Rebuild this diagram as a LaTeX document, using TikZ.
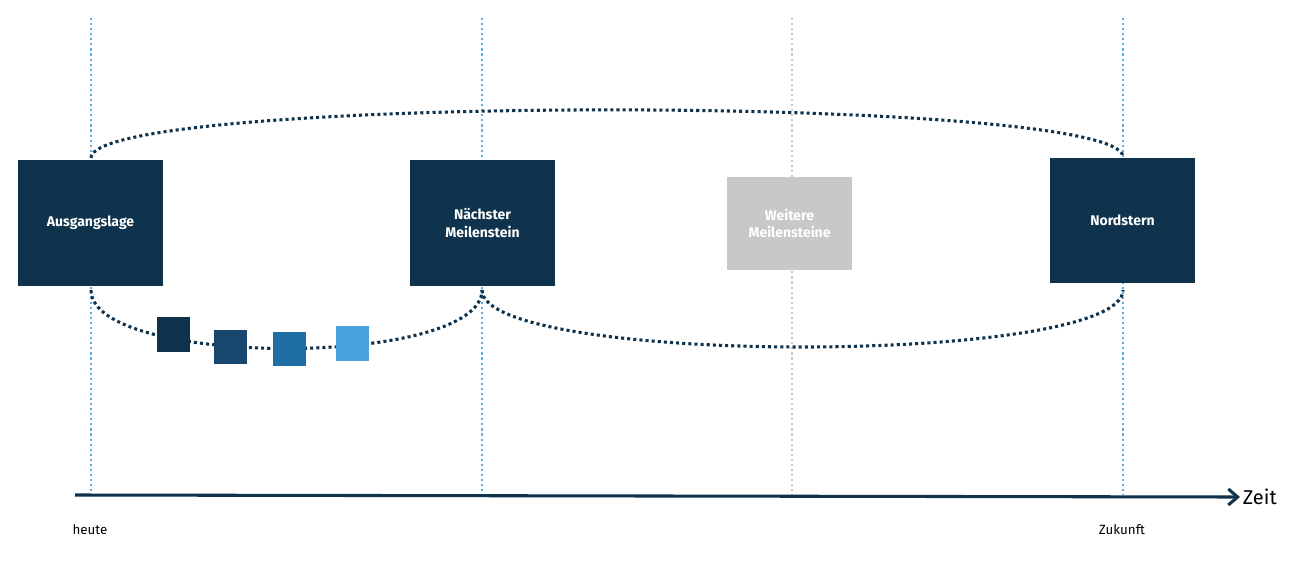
\documentclass[tikz,border=0pt]{standalone}
\usepackage{fontspec}
\setmainfont{Fira Sans}
\usetikzlibrary{arrows.meta}
\definecolor{navy}{HTML}{0F334D}
\definecolor{lblue}{HTML}{5DADE2}
\definecolor{lgray}{HTML}{C8C8C8}
\tikzset{
 vline/.style={lblue,line width=1.6pt,dash pattern=on 1.6pt off 2.2pt},
 loop/.style={navy,line width=2.3pt,dash pattern=on 2.3pt off 2.3pt},
 box/.style={fill=navy,text=white,font=\bfseries\fontsize{10.5}{13}\selectfont,align=center,inner sep=0pt},
 sq/.style={inner sep=0pt}
}
\begin{document}
\begin{tikzpicture}[x=0.75pt,y=-0.75pt]
\useasboundingbox (0,0) rectangle (1301,574);
\coordinate (t1) at (91,18); \coordinate (b1) at (91,495);
\coordinate (t2) at (482,18); \coordinate (b2) at (482,495);
\coordinate (t3) at (792,18); \coordinate (b3) at (792,495);
\coordinate (t4) at (1123,18); \coordinate (b4) at (1123,495);
\draw[vline] (t1)--(b1);
\draw[vline] (t2)--(b2);
\draw[vline,lgray] (t3)--(b3);
\draw[vline] (t4)--(b4);
\draw[loop] (91,158) .. controls (91,94) and (1123,94) .. (1123,157);
\draw[loop] (482,290) .. controls (482,366) and (1123,366) .. (1123,290);
\draw[loop] (91,290) .. controls (91,368) and (482,368) .. (482,290);
\node[box,minimum width=109pt,minimum height=95pt] (a) at (90.5,223) {Ausgangslage};
\node[box,minimum width=109pt,minimum height=95pt] (n) at (482.5,223) {Nächster\\Meilenstein};
\node[box,fill=lgray,minimum width=94pt,minimum height=70pt] (w) at (789.5,223.5) {Weitere\\Meilensteine};
\node[box,minimum width=109pt,minimum height=94pt] (s) at (1122.5,220.5) {Nordstern};
\node[sq,fill=navy,minimum width=25pt,minimum height=26pt] (q1) at (173.5,334.5) {};
\node[sq,fill={rgb,255:red,23;green,71;blue,110},minimum width=25pt,minimum height=26pt] (q2) at (230.5,347) {};
\node[sq,fill={rgb,255:red,31;green,111;blue,166},minimum width=25pt,minimum height=26pt] (q3) at (289.5,349) {};
\node[sq,fill={rgb,255:red,74;green,163;blue,223},minimum width=25pt,minimum height=26pt] (q4) at (352.5,343.5) {};
\coordinate (x0) at (75,495);
\node[anchor=west,inner sep=2pt,font=\fontsize{15}{18}\selectfont] (z) at (1240,497) {Zeit};
\draw[navy,line width=2.3pt,-{Straight Barb[length=7pt,width=12pt]}] (x0) -- (z.west);
\node[font=\fontsize{10}{12}\selectfont] (h) at (90,530) {heute};
\node[font=\fontsize{10}{12}\selectfont] (k) at (1122,530) {Zukunft};
\end{tikzpicture}
\end{document}
